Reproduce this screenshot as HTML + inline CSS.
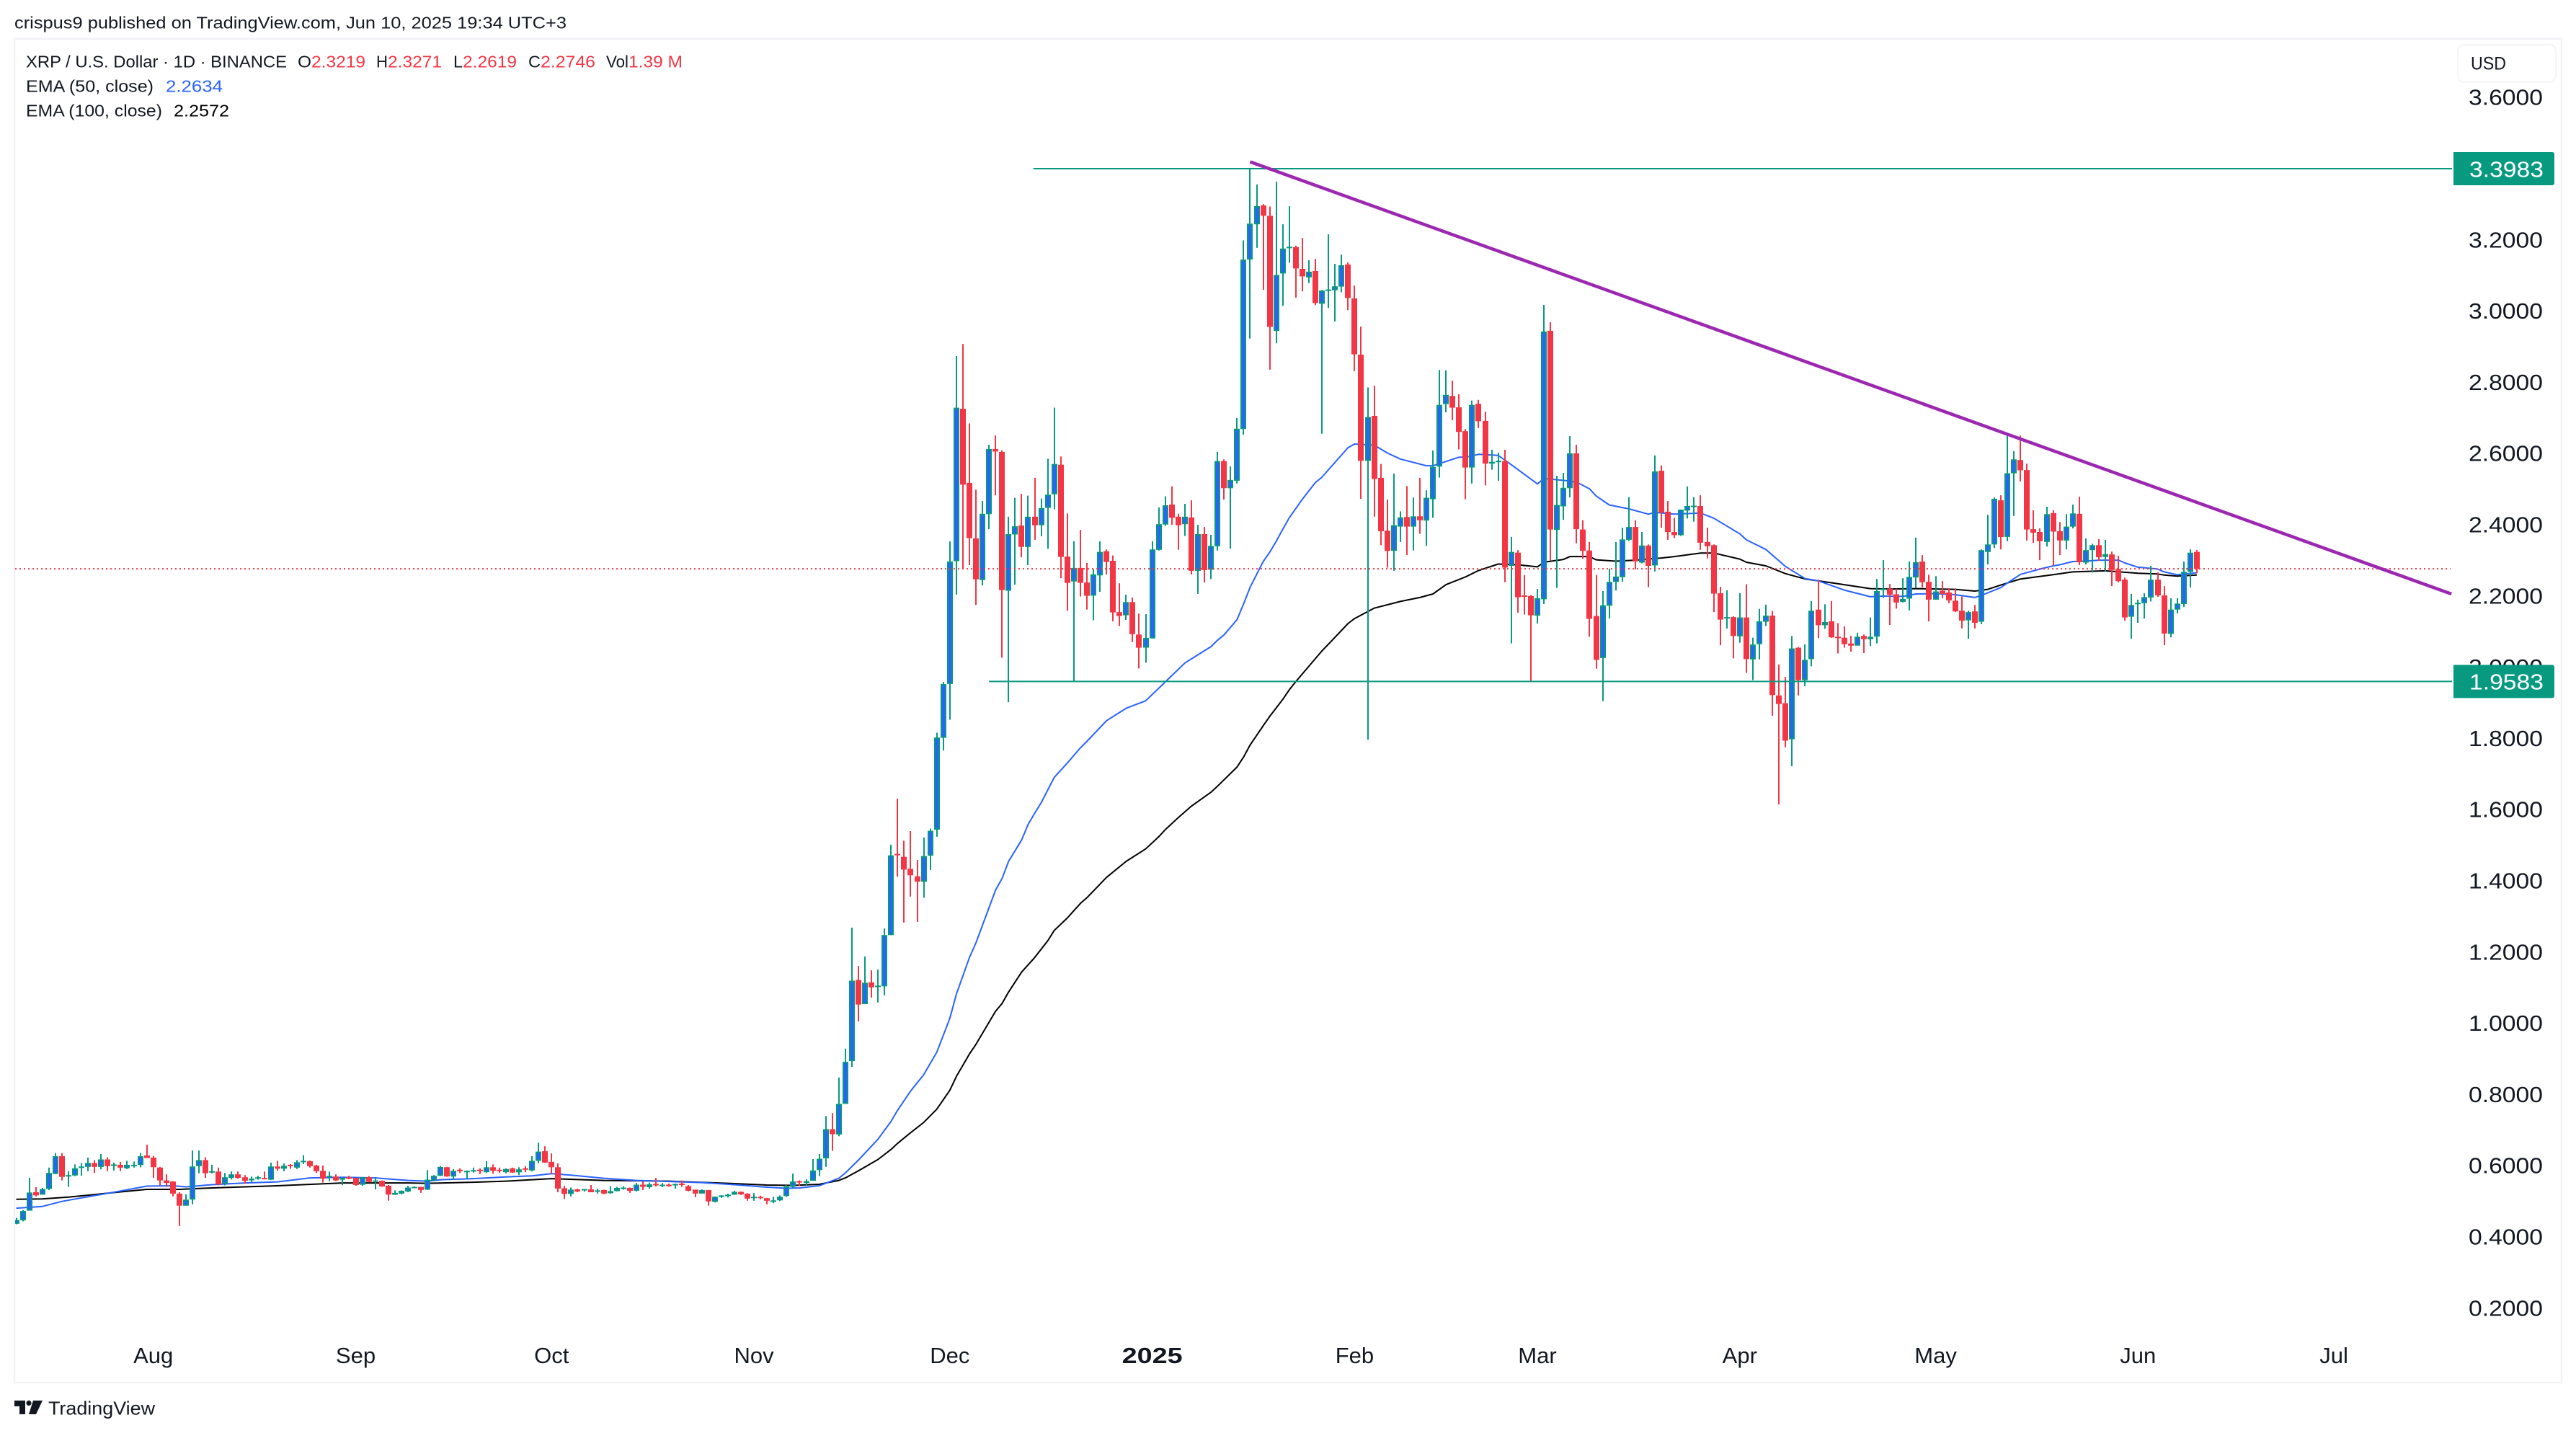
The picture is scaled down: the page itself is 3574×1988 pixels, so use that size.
<!DOCTYPE html>
<html lang="en">
<head>
<meta charset="utf-8">
<title>XRP / U.S. Dollar chart</title>
<style>
html,body{margin:0;padding:0;background:#fff;width:3574px;height:1988px;overflow:hidden}
svg{display:block}
text{font-family:"Liberation Sans",sans-serif;fill:#131722}
</style>
</head>
<body>
<svg id="chart" xmlns="http://www.w3.org/2000/svg" width="3574" height="1988" viewBox="0 0 3574 1988">
  <defs><clipPath id="plot-clip"><rect x="21" y="55" width="3532" height="1862"/></clipPath></defs>
  <rect x="0" y="0" width="3574" height="1988" fill="#ffffff"/>
  <text x="20" y="39.5" font-size="23" textLength="766" lengthAdjust="spacingAndGlyphs">crispus9 published on TradingView.com, Jun 10, 2025 19:34 UTC+3</text>
  <rect x="20" y="54" width="3534" height="1864" fill="#ffffff" stroke="#f1f2f5" stroke-width="2.5"/>
  <g id="ema-layer" clip-path="url(#plot-clip)"></g>
  <g id="candle-layer" clip-path="url(#plot-clip)"></g>
  <g id="drawing-layer"></g>
  <g id="y-axis"></g>
  <g id="x-axis"></g>
  <g id="label-layer"></g>

  <g font-size="23">
    <text x="36" y="93.5" textLength="362" lengthAdjust="spacingAndGlyphs">XRP / U.S. Dollar · 1D · BINANCE</text>
    <text x="413" y="93.5" textLength="19" lengthAdjust="spacingAndGlyphs">O</text>
    <text x="432" y="93.5" textLength="75" lengthAdjust="spacingAndGlyphs" style="fill:#f23645">2.3219</text>
    <text x="522" y="93.5" textLength="16" lengthAdjust="spacingAndGlyphs">H</text>
    <text x="538" y="93.5" textLength="75" lengthAdjust="spacingAndGlyphs" style="fill:#f23645">2.3271</text>
    <text x="629" y="93.5" textLength="13" lengthAdjust="spacingAndGlyphs">L</text>
    <text x="642" y="93.5" textLength="75" lengthAdjust="spacingAndGlyphs" style="fill:#f23645">2.2619</text>
    <text x="733" y="93.5" textLength="17" lengthAdjust="spacingAndGlyphs">C</text>
    <text x="750" y="93.5" textLength="76" lengthAdjust="spacingAndGlyphs" style="fill:#f23645">2.2746</text>
    <text x="841" y="93.5" textLength="31" lengthAdjust="spacingAndGlyphs">Vol</text>
    <text x="872" y="93.5" textLength="75" lengthAdjust="spacingAndGlyphs" style="fill:#f23645">1.39 M</text>
    <text x="36" y="127.5" textLength="177" lengthAdjust="spacingAndGlyphs">EMA (50, close)</text>
    <text x="230" y="127.5" textLength="79" lengthAdjust="spacingAndGlyphs" style="fill:#2962ff">2.2634</text>
    <text x="36" y="161.5" textLength="189" lengthAdjust="spacingAndGlyphs">EMA (100, close)</text>
    <text x="241" y="161.5" textLength="77" lengthAdjust="spacingAndGlyphs" style="fill:#000000">2.2572</text>
  </g>

  <g>
    <rect x="3410" y="62" width="136" height="52" rx="9" fill="#ffffff" stroke="#f1f2f5" stroke-width="1.5"/>
    <text x="3428" y="96.5" font-size="25" textLength="49" lengthAdjust="spacingAndGlyphs">USD</text>
  </g>

  <g>
    <path d="M20 1943H35V1962H27V1951H20Z M46 1943H59L50 1962H40Z" fill="#131722"/>
    <circle cx="40" cy="1946.5" r="3.6" fill="#131722"/>
    <text x="67" y="1962.5" font-size="26" textLength="148" lengthAdjust="spacingAndGlyphs">TradingView</text>
  </g>
</svg>

<script>
// ---------- candle data (Jul 11 2024 .. Jun 10 2025, daily) ----------
const opens = [
.435,.445,.472,.524,.517,.533,.575,.625,.570,.571,
.594,.595,.606,.595,.616,.600,.601,.591,.600,.600,
.627,.621,.593,.557,.554,.520,.486,.503,.597,.614,
.581,.582,.548,.564,.574,.566,.557,.564,.564,.559,
.596,.590,.601,.593,.610,.611,.599,.584,.567,.568,
.559,.566,.564,.545,.566,.555,.556,.542,.517,.520,
.526,.537,.539,.531,.557,.570,.594,.568,.587,.582,
.584,.587,.580,.594,.587,.580,.591,.580,.591,.585,
.612,.639,.609,.594,.535,.519,.532,.532,.532,.528,
.530,.521,.527,.535,.536,.528,.545,.538,.547,.543,
.545,.546,.548,.541,.531,.520,.530,.497,.514,.516,
.517,.525,.520,.510,.511,.507,.501,.501,.513,.539,
.555,.550,.556,.586,.619,.701,.686,.772,.892,1.120,
1.052,1.113,1.102,1.102,1.246,1.474,1.466,1.432,1.411,1.396,
1.469,1.542,1.800,1.951,2.296,2.724,2.516,2.360,2.243,2.428,
2.611,2.603,2.213,2.371,2.396,2.336,2.421,2.397,2.446,2.484,
2.567,2.309,2.239,2.277,2.236,2.199,2.256,2.324,2.297,2.153,
2.144,2.181,2.090,2.053,2.079,2.328,2.399,2.455,2.421,2.400,
2.419,2.269,2.372,2.272,2.338,2.577,2.501,2.522,2.667,3.143,
3.242,3.295,3.266,2.943,3.104,3.177,3.178,3.117,3.093,3.111,
3.019,3.057,3.057,3.067,3.129,3.034,2.876,2.578,2.704,2.530,
2.382,2.325,2.393,2.420,2.393,2.422,2.410,2.470,2.562,2.737,
2.760,2.728,2.661,2.559,2.738,2.690,2.570,2.576,2.577,2.283,
2.320,2.200,2.198,2.143,2.189,2.943,2.384,2.450,2.501,2.599,
2.385,2.326,2.142,2.024,2.171,2.238,2.251,2.356,2.392,2.292,
2.340,2.284,2.550,2.435,2.378,2.369,2.438,2.450,2.451,2.350,
2.341,2.206,2.136,2.139,2.085,2.138,2.020,2.063,2.126,2.143,
1.919,1.897,1.796,2.053,1.962,2.021,2.160,2.116,2.127,2.084,
2.081,2.065,2.059,2.086,2.077,2.084,2.217,2.219,2.203,2.182,
2.191,2.250,2.295,2.238,2.188,2.213,2.208,2.185,2.157,2.130,
2.155,2.126,2.322,2.343,2.467,2.364,2.543,2.580,2.552,2.386,
2.378,2.350,2.431,2.380,2.354,2.393,2.429,2.292,2.327,2.341,
2.308,2.315,2.274,2.244,2.140,2.177,2.178,2.194,2.244,2.200,
2.092,2.160,2.176,2.266,2.3219];

const highs = [
.452,.474,.564,.538,.536,.593,.634,.634,.583,.602,
.606,.621,.614,.631,.622,.607,.609,.612,.610,.634,
.657,.626,.595,.574,.555,.524,.518,.641,.641,.622,
.601,.593,.578,.582,.582,.572,.568,.570,.582,.607,
.612,.605,.603,.614,.628,.613,.601,.599,.582,.574,
.566,.570,.564,.566,.569,.566,.557,.544,.529,.529,
.542,.540,.539,.586,.572,.597,.595,.589,.591,.585,
.593,.591,.611,.602,.593,.591,.593,.594,.597,.625,
.663,.653,.633,.605,.542,.537,.534,.533,.544,.534,
.531,.541,.539,.540,.537,.550,.554,.551,.564,.550,
.548,.548,.557,.544,.531,.532,.530,.512,.516,.520,
.528,.526,.521,.521,.514,.508,.511,.515,.544,.576,
.557,.560,.617,.631,.738,.746,.846,.927,1.267,1.159,
1.186,1.147,1.149,1.265,1.500,1.629,1.511,1.538,1.457,1.520,
1.545,1.814,1.957,2.352,2.872,2.906,2.683,2.497,2.465,2.623,
2.649,2.607,2.421,2.474,2.485,2.480,2.530,2.472,2.584,2.727,
2.590,2.430,2.352,2.384,2.291,2.274,2.352,2.329,2.312,2.234,
2.202,2.194,2.149,2.147,2.352,2.447,2.478,2.506,2.429,2.457,
2.467,2.398,2.392,2.370,2.603,2.582,2.562,2.698,3.197,3.398,
3.354,3.299,3.292,3.362,3.242,3.293,3.182,3.204,3.141,3.145,
3.058,3.214,3.131,3.157,3.135,3.070,2.955,2.784,2.789,2.569,
2.469,2.542,2.436,2.507,2.475,2.530,2.495,2.607,2.833,2.832,
2.803,2.765,2.667,2.747,2.749,2.716,2.609,2.601,2.609,2.364,
2.327,2.257,2.201,2.218,3.016,2.967,2.536,2.544,2.647,2.623,
2.411,2.350,2.257,2.212,2.275,2.350,2.390,2.476,2.411,2.378,
2.343,2.593,2.565,2.465,2.418,2.441,2.506,2.476,2.481,2.390,
2.343,2.224,2.214,2.141,2.206,2.231,2.081,2.162,2.174,2.156,
2.006,1.971,2.086,2.055,2.062,2.184,2.244,2.175,2.184,2.122,
2.113,2.086,2.095,2.090,2.138,2.246,2.299,2.232,2.219,2.248,
2.295,2.362,2.313,2.258,2.254,2.240,2.220,2.219,2.197,2.157,
2.173,2.329,2.426,2.475,2.481,2.654,2.605,2.649,2.570,2.439,
2.388,2.449,2.439,2.406,2.428,2.455,2.477,2.360,2.345,2.358,
2.356,2.323,2.311,2.250,2.204,2.188,2.206,2.283,2.265,2.226,
2.192,2.192,2.295,2.329,2.3271];

const lows = [
.434,.442,.472,.512,.517,.530,.575,.557,.539,.569,
.570,.583,.578,.588,.583,.585,.583,.589,.593,.594,
.620,.564,.543,.539,.512,.429,.486,.490,.577,.564,
.577,.543,.543,.560,.562,.548,.552,.559,.562,.558,
.584,.583,.590,.589,.603,.593,.578,.551,.555,.555,
.544,.560,.542,.542,.552,.532,.539,.500,.516,.518,
.524,.537,.522,.530,.556,.569,.567,.559,.578,.562,
.579,.575,.578,.576,.578,.577,.578,.572,.580,.582,
.605,.606,.575,.524,.505,.512,.524,.526,.524,.520,
.518,.520,.526,.531,.522,.526,.530,.534,.540,.538,
.539,.534,.539,.526,.510,.520,.486,.495,.508,.509,
.516,.516,.500,.500,.504,.490,.493,.499,.511,.537,
.541,.542,.556,.569,.595,.640,.681,.772,.876,1.003,
1.052,1.070,1.057,1.077,1.246,1.410,1.281,1.354,1.283,1.351,
1.429,1.522,1.764,1.851,2.202,2.274,2.285,2.173,2.228,2.386,
2.481,2.025,1.900,2.230,2.307,2.285,2.356,2.366,2.331,2.442,
2.248,2.157,1.958,2.197,2.160,2.130,2.210,2.259,2.127,2.114,
2.131,2.069,1.995,2.011,2.079,2.326,2.395,2.398,2.328,2.367,
2.259,2.204,2.236,2.246,2.326,2.469,2.331,2.514,2.651,2.921,
3.176,3.058,2.834,2.908,3.013,3.134,3.036,3.054,3.077,3.015,
2.654,3.007,2.969,3.051,3.001,2.830,2.471,1.795,2.421,2.341,
2.278,2.269,2.350,2.313,2.326,2.373,2.339,2.418,2.531,2.714,
2.692,2.610,2.470,2.514,2.670,2.509,2.553,2.522,2.237,2.065,
2.151,2.146,1.958,2.121,2.176,2.298,2.221,2.412,2.475,2.346,
2.303,2.084,1.994,1.903,2.135,2.214,2.238,2.353,2.273,2.290,
2.223,2.267,2.390,2.356,2.361,2.367,2.416,2.407,2.328,2.304,
2.153,2.060,2.107,2.023,2.067,1.982,1.962,2.020,2.114,1.862,
1.613,1.773,1.720,1.919,1.945,2.001,2.080,2.106,2.081,2.037,
2.053,2.042,2.059,2.038,2.058,2.065,2.193,2.117,2.163,2.180,
2.158,2.221,2.222,2.127,2.188,2.192,2.178,2.153,2.107,2.078,
2.107,2.119,2.287,2.333,2.329,2.352,2.423,2.520,2.354,2.347,
2.299,2.337,2.283,2.313,2.329,2.388,2.285,2.287,2.264,2.297,
2.267,2.226,2.236,2.129,2.078,2.123,2.135,2.183,2.196,2.060,
2.082,2.149,2.167,2.222,2.2619];

const closes = [
.446,.471,.523,.515,.533,.578,.625,.567,.572,.591,
.596,.606,.595,.616,.597,.602,.593,.601,.601,.625,
.620,.594,.557,.550,.520,.486,.503,.596,.614,.577,
.583,.546,.566,.574,.564,.556,.562,.566,.563,.596,
.590,.598,.597,.608,.612,.597,.583,.562,.570,.557,
.564,.564,.544,.566,.553,.557,.540,.517,.522,.528,
.537,.539,.530,.559,.570,.595,.568,.584,.584,.584,
.586,.584,.594,.584,.584,.589,.579,.588,.590,.612,
.638,.607,.594,.534,.519,.531,.526,.533,.524,.529,
.520,.527,.536,.537,.528,.545,.539,.546,.545,.545,
.542,.547,.546,.528,.520,.530,.498,.511,.515,.517,
.525,.518,.506,.511,.508,.500,.501,.511,.540,.554,
.554,.555,.585,.618,.701,.687,.772,.890,1.118,1.051,
1.112,1.099,1.104,1.246,1.470,1.471,1.430,1.414,1.396,1.468,
1.539,1.801,1.951,2.295,2.727,2.511,2.361,2.245,2.429,2.611,
2.604,2.215,2.372,2.394,2.336,2.421,2.397,2.445,2.483,2.569,
2.308,2.235,2.277,2.235,2.199,2.259,2.322,2.294,2.152,2.142,
2.181,2.091,2.053,2.080,2.329,2.400,2.453,2.418,2.397,2.421,
2.269,2.372,2.271,2.339,2.577,2.501,2.524,2.668,3.143,3.244,
3.293,3.266,2.954,3.100,3.174,3.179,3.118,3.096,3.109,3.021,
3.056,3.059,3.068,3.127,3.035,2.877,2.578,2.701,2.527,2.380,
2.325,2.397,2.419,2.393,2.422,2.411,2.474,2.561,2.735,2.763,
2.727,2.659,2.559,2.735,2.689,2.570,2.575,2.578,2.278,2.322,
2.195,2.198,2.144,2.192,2.941,2.385,2.454,2.502,2.599,2.386,
2.325,2.134,2.019,2.172,2.238,2.253,2.357,2.392,2.295,2.340,
2.283,2.548,2.433,2.378,2.369,2.441,2.451,2.452,2.348,2.338,
2.205,2.132,2.139,2.086,2.138,2.021,2.062,2.127,2.143,1.920,
1.895,1.792,2.051,1.962,2.019,2.157,2.116,2.125,2.082,2.082,
2.063,2.059,2.084,2.077,2.084,2.212,2.219,2.202,2.180,2.190,
2.252,2.293,2.237,2.188,2.211,2.204,2.186,2.155,2.129,2.153,
2.123,2.327,2.343,2.471,2.364,2.543,2.582,2.551,2.385,2.376,
2.352,2.428,2.379,2.354,2.393,2.430,2.293,2.327,2.341,2.307,
2.316,2.271,2.240,2.138,2.173,2.179,2.195,2.244,2.200,2.093,
2.160,2.177,2.266,2.320,2.2746];

// ---------- EMA readings: day number since first bar, and value ----------
const ema50Days = [0,4,7,10,15,20,24,26,30,35,40,45,50,55,60,63,65,70,75,79,82,85,90,95,100,105,110,115,118,120,123,126,127,129,132,134,135,137,139,141,143,144,146,147,150,151,152,154,155,156,157,159,161,163,164,167,170,173,175,176,179,183,184,185,187,188,189,191,192,193,194,195,197,199,200,201,204,205,207,208,210,212,216,217,219,221,222,224,227,229,233,234,237,239,241,242,244,247,250,251,254,258,260,264,265,268,271,274,276,280,283,284,286,289,291,294,297,300,301,304,305,307,310,312,313,315,317,319,322,323,325,328,329,331,334];
const ema50Values = [.479,.484,.498,.508,.524,.541,.542,.539,.545,.550,.553,.564,.566,.564,.557,.555,.559,.562,.567,.570,.576,.572,.563,.557,.554,.551,.545,.538,.535,.536,.542,.563,.578,.614,.673,.723,.754,.808,.854,.917,1.012,1.080,1.183,1.224,1.372,1.405,1.453,1.513,1.557,1.588,1.618,1.689,1.729,1.772,1.790,1.848,1.883,1.904,1.939,1.957,2.010,2.056,2.074,2.089,2.132,2.176,2.223,2.295,2.321,2.352,2.386,2.418,2.470,2.517,2.532,2.553,2.615,2.625,2.623,2.622,2.600,2.583,2.564,2.564,2.576,2.588,2.588,2.596,2.593,2.567,2.513,2.528,2.523,2.518,2.499,2.479,2.454,2.443,2.428,2.433,2.428,2.431,2.417,2.373,2.356,2.329,2.281,2.247,2.241,2.215,2.201,2.196,2.198,2.197,2.204,2.205,2.202,2.194,2.200,2.222,2.235,2.259,2.274,2.283,2.286,2.295,2.296,2.299,2.299,2.291,2.279,2.274,2.266,2.258,2.2634];

const ema100Days = [0,4,8,15,20,25,30,40,50,60,63,70,75,79,82,90,100,110,115,119,123,126,127,129,132,134,135,137,139,141,143,144,146,147,150,151,152,154,156,158,159,161,163,164,167,170,173,175,176,178,180,183,184,187,188,189,191,192,194,195,196,200,201,204,205,208,212,215,217,219,222,224,227,230,233,234,237,238,241,242,245,248,252,254,258,260,264,265,268,271,274,276,280,284,287,291,297,300,302,304,307,312,315,320,325,328,329,331,334];
const ema100Values = [.504,.505,.510,.523,.532,.532,.536,.542,.550,.550,.549,.552,.555,.559,.562,.557,.555,.548,.544,.543,.546,.557,.564,.584,.616,.644,.661,.691,.720,.757,.810,.849,.912,.939,1.032,1.054,1.086,1.142,1.183,1.230,1.259,1.294,1.335,1.351,1.408,1.453,1.488,1.522,1.542,1.576,1.608,1.647,1.664,1.718,1.746,1.780,1.834,1.860,1.908,1.935,1.958,2.044,2.063,2.121,2.135,2.164,2.183,2.194,2.204,2.230,2.252,2.270,2.288,2.286,2.280,2.293,2.301,2.309,2.309,2.300,2.296,2.299,2.305,2.309,2.319,2.319,2.302,2.293,2.283,2.261,2.246,2.241,2.230,2.219,2.218,2.219,2.217,2.212,2.217,2.229,2.246,2.258,2.266,2.269,2.262,2.260,2.257,2.254,2.2572];

// ---------- axis labels ----------
const priceTicks = [3.6,3.4,3.2,3.0,2.8,2.6,2.4,2.2,2.0,1.8,1.6,1.4,1.2,1.0,0.8,0.6,0.4,0.2];
const monthLabels = ['Aug','Sep','Oct','Nov','Dec','2025','Feb','Mar','Apr','May','Jun','Jul'];
const monthDays = [21,52,82,113,143,174,205,233,264,294,325,355];

// ---------- annotations ----------
const levelPrices = [3.3983,1.9583];
const levelStartDays = [155.8,149];
const lastPrice = 2.2746;
const trendDays = [189,373];
const trendPrices = [3.4175,2.204];

// ---------- axis functions ----------
const AXIS_RIGHT = 3402;
function xScale(day){ return 22.5 + day * 9.058; }
function yScale(price){ return 234 + (3.3983 - price) * 494; }

const NS = 'http://www.w3.org/2000/svg';
const GREEN = '#089981', RED = '#f23645', BLUE = '#2962ff';
function make(tag, parent, props){
  const el = document.createElementNS(NS, tag);
  for (const k in props) el.setAttribute(k, props[k]);
  parent.appendChild(el);
  return el;
}

// EMA lines
const emaLayer = document.getElementById('ema-layer');
function linePoints(days, values){
  return days.map((d, i) => xScale(d).toFixed(1) + ',' + yScale(values[i]).toFixed(1)).join(' ');
}
const ema100Line = make('polyline', emaLayer, {points: linePoints(ema100Days, ema100Values), fill: 'none', stroke: '#000000', 'stroke-width': 2, 'stroke-linejoin': 'round'});


const ema50Line = make('polyline', emaLayer, {points: linePoints(ema50Days, ema50Values), fill: 'none', stroke: BLUE, 'stroke-width': 2, 'stroke-linejoin': 'round'});



// Candles
const candleLayer = document.getElementById('candle-layer');
opens.forEach((open, i) => {
  const close = closes[i];
  const up = close >= open;
  const cx = Math.round(xScale(i));
  const yHigh = yScale(highs[i]);
  const yLow = yScale(lows[i]);
  const yTop = yScale(Math.max(open, close));
  const yBot = yScale(Math.min(open, close));
  const color = up ? GREEN : RED;
  const bar = make('g', candleLayer, {});
  
  
  make('rect', bar, {x: cx - 1, y: yHigh.toFixed(1), width: 2, height: Math.max(yLow - yHigh, 1).toFixed(1), fill: color});
  const h = Math.max(yBot - yTop, 2);
  make('rect', bar, {x: cx - 4, y: yTop.toFixed(1), width: 8, height: h.toFixed(1), fill: color});
  if (up && h > 4) {
    make('rect', bar, {x: cx - 2, y: (yTop + 2).toFixed(1), width: 4, height: (h - 4).toFixed(1), fill: BLUE});
  }
});

// Price-level lines, last price line and trend line
const drawingLayer = document.getElementById('drawing-layer');
const lastPriceLine = make('line', drawingLayer, {x1: 21, x2: 3400, y1: yScale(lastPrice), y2: yScale(lastPrice), stroke: RED, 'stroke-width': 2, 'stroke-dasharray': '2 4'});


levelPrices.forEach((price, i) => {
  const level = make('line', drawingLayer, {x1: xScale(levelStartDays[i]), x2: AXIS_RIGHT, y1: yScale(price), y2: yScale(price), stroke: GREEN, 'stroke-width': 2});
  
  
});
const trendLine = make('line', drawingLayer, {x1: xScale(trendDays[0]), y1: yScale(trendPrices[0]), x2: xScale(trendDays[1]), y2: yScale(trendPrices[1]), stroke: '#9c27b0', 'stroke-width': 4.5});



// Price axis
const yAxis = document.getElementById('y-axis');
priceTicks.forEach(price => {
  const t = make('text', yAxis, {x: 3425, y: (yScale(price) + 11.3).toFixed(1), 'font-size': 31, textLength: 103, lengthAdjust: 'spacingAndGlyphs'});
  
  
  t.textContent = price.toFixed(4);
});

// Time axis
const xAxis = document.getElementById('x-axis');
monthLabels.forEach((label, i) => {
  const t = make('text', xAxis, {x: xScale(monthDays[i]).toFixed(1), y: 1891, 'font-size': 31, 'text-anchor': 'middle'});
  
  
  if (label === '2025') {
    t.setAttribute('font-weight', 'bold');
    t.setAttribute('textLength', '84');
    t.setAttribute('lengthAdjust', 'spacingAndGlyphs');
  }
  t.textContent = label;
});

// Level price tags on the axis
const labelLayer = document.getElementById('label-layer');
levelPrices.forEach(price => {
  const yc = yScale(price);
  const box = make('path', labelLayer, {d: 'M3404 ' + (yc - 23) + 'H3541a3 3 0 0 1 3 3V' + (yc + 20) + 'a3 3 0 0 1 -3 3H3404Z', fill: GREEN});
  
  
  const t = make('text', labelLayer, {x: 3426, y: (yc + 11.3).toFixed(1), 'font-size': 31, textLength: 103, lengthAdjust: 'spacingAndGlyphs', style: 'fill:#ffffff'});
  
  
  t.textContent = price.toFixed(4);
});
</script>
</body>
</html>
